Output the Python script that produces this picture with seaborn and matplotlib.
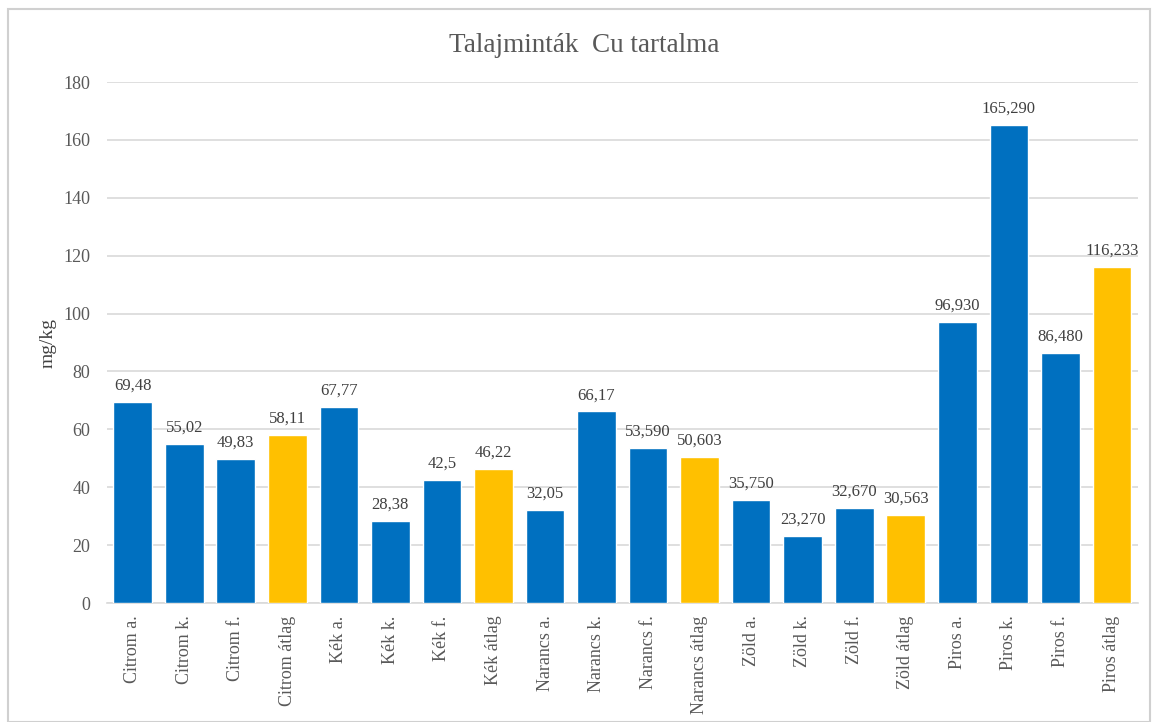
import matplotlib.pyplot as plt
import seaborn as sns
import pandas as pd
from matplotlib.patches import Rectangle

# Data
samples = ["Citrom a.", "Citrom k.", "Citrom f.", "Citrom átlag",
           "Kék a.", "Kék k.", "Kék f.", "Kék átlag",
           "Narancs a.", "Narancs k.", "Narancs f.", "Narancs átlag",
           "Zöld a.", "Zöld k.", "Zöld f.", "Zöld átlag",
           "Piros a.", "Piros k.", "Piros f.", "Piros átlag"]
cu_values = [69.48, 55.02, 49.83, 58.11,
             67.77, 28.38, 42.5, 46.22,
             32.05, 66.17, 53.59, 50.603,
             35.75, 23.27, 32.67, 30.563,
             96.93, 165.29, 86.48, 116.233]
value_labels = ["69,48", "55,02", "49,83", "58,11",
                "67,77", "28,38", "42,5", "46,22",
                "32,05", "66,17", "53,590", "50,603",
                "35,750", "23,270", "32,670", "30,563",
                "96,930", "165,290", "86,480", "116,233"]

df = pd.DataFrame({"minta": samples, "cu": cu_values})
bar_colors = ["#FFC000" if s.endswith("átlag") else "#0070C0" for s in samples]

sns.set_theme(style="white")
plt.rcParams['font.family'] = ['Liberation Serif', 'DejaVu Serif']
text_col = "#595959"

fig = plt.figure(figsize=(11.55, 7.22), dpi=100)
ax = fig.add_axes([0.0926, 0.1648, 0.8924, 0.7216])

sns.barplot(data=df, x="minta", y="cu", hue="minta", palette=bar_colors,
            saturation=1, width=0.75, legend=False, ax=ax, zorder=3)

bars = sorted(ax.patches, key=lambda p: p.get_x())
for p, lab in zip(bars, value_labels):
    ax.annotate(lab, (p.get_x() + p.get_width() / 2, p.get_height()),
                xytext=(0, 6), textcoords="offset points",
                ha="center", va="bottom", fontsize=12, color="#404040")

ax.set_ylim(0, 180)
ax.set_yticks(range(0, 181, 20))
ax.set_xlim(-0.5, len(samples) - 0.5)
ax.yaxis.grid(True, color="#D9D9D9", linewidth=1.2, zorder=0)
ax.set_axisbelow(True)
for s in ["top", "right", "left"]:
    ax.spines[s].set_visible(False)
ax.spines["bottom"].set_color("#D9D9D9")
ax.spines["bottom"].set_linewidth(1.2)
ax.tick_params(axis="x", rotation=90, labelsize=13, colors=text_col, length=0, pad=9)
ax.tick_params(axis="y", labelsize=13, colors=text_col, length=0, pad=12)
ax.set_xlabel("")
ax.set_ylabel("mg/kg", fontsize=14, color="#404040", labelpad=5)

fig.text(584 / 1155, 1 - 45 / 722, "Talajminták  Cu tartalma",
         ha="center", va="center", fontsize=19.5, color=text_col)

fig.patches.append(Rectangle((8 / 1155, 0), 1142 / 1155, 1 - 9 / 722,
                             transform=fig.transFigure, fill=False,
                             edgecolor="#D0D0D0", linewidth=1.5))

fig.savefig("out.png", dpi=100)
